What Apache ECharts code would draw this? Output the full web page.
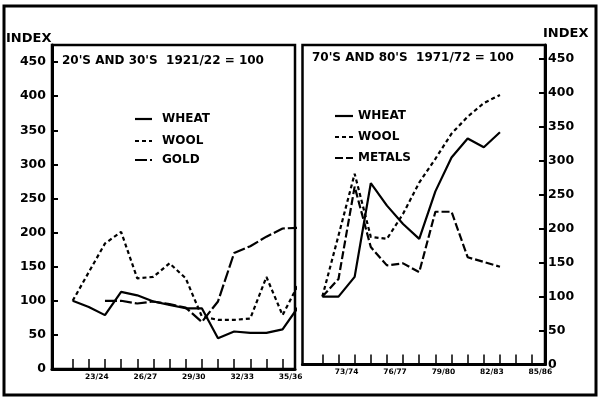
<!DOCTYPE html>
<html>
<head>
<meta charset="utf-8">
<script src="https://cdn.jsdelivr.net/npm/echarts@6/dist/echarts.min.js"></script>
<style>
html,body{margin:0;padding:0;background:#fff;}
#chart{width:600px;height:403px;}
</style>
</head>
<body>
<div id="chart"></div>
<script>
// ---- Data ----
const leftYears  = ['21/22','22/23','23/24','24/25','25/26','26/27','27/28','28/29','29/30','30/31','31/32','32/33','33/34','34/35','35/36'];
const rightYears = ['71/72','72/73','73/74','74/75','75/76','76/77','77/78','78/79','79/80','80/81','81/82','82/83','83/84','84/85','85/86'];

const leftWheat = [100, 91, 79, 113, 108, 99, 94, 89, 89, 45, 55, 53, 53, 58, 92];
const leftWool  = [100, 142, 184, 201, 133, 135, 155, 133, 77, 72, 72, 74, 135, 79, 125];
const leftGold  = [null, null, 100, 100, 96, 99, 95, 90, 69, 99, 170, 180, 194, 206, 207];

const rightWheat  = [100, 100, 129, 267, 234, 207, 185, 255, 305, 333, 320, 342];
const rightWool   = [100, 190, 281, 188, 185, 222, 268, 303, 340, 365, 385, 397];
const rightMetals = [100, 126, 262, 173, 146, 149, 136, 225, 225, 158, 151, 144];

const yTicks = [0, 50, 100, 150, 200, 250, 300, 350, 400, 450];
const labelEvery = 3, labelStart = 2; // 23/24, 26/27 ... and 73/74, 76/77 ...

const leftTitle  = "20'S AND 30'S  1921/22 = 100";
const rightTitle = "70'S AND 80'S  1971/72 = 100";
const axisName = 'INDEX';

const leftNames  = ['WHEAT', 'WOOL', 'GOLD'];
const rightNames = ['WHEAT', 'WOOL', 'METALS'];

// ---- Styles ----
const FONT = 'DejaVu Sans';
const DASH = { WHEAT: null, WOOL: [4,3], GOLD: [12,3], METALS: [8,3] };

function pairs(arr){ return arr.map((v,i)=>[i, v]); }
function labelPositions(years){
  const out = [];
  for (let i = labelStart; i < years.length; i += labelEvery) out.push(i - 0.5);
  return out;
}
function tickPositions(years, max){
  return years.map((_,i)=>i).filter(i => i <= max);
}
const L = {min:-1.28, max:13.77};
const R = {min:-1.23, max:13.79};

function xAxis(gi, years, ext){
  return {
    gridIndex: gi, type:'value', min: ext.min, max: ext.max,
    axisLine:{show:true, onZero:false, lineStyle:{color:'#000', width:3}},
    axisTick:{show:true, inside:true, length:10, lineStyle:{color:'#000', width:1.5},
      customValues: tickPositions(years, ext.max)},
    axisLabel:{show:true, customValues: labelPositions(years), margin:4,
      formatter: v => years[Math.round(v + 0.5)] || '',
      color:'#000', fontFamily:FONT, fontWeight:'bold', fontSize:7.5},
    splitLine:{show:false}
  };
}
function yAxis(gi, max, pos, margin){
  return {
    gridIndex: gi, type:'value', min:0, max:max, position:pos,
    axisLine:{show:true, onZero:false, lineStyle:{color:'#000', width:3}},
    axisTick:{show:true, inside:true, length:6, lineStyle:{color:'#000', width:2}, customValues: yTicks},
    axisLabel:{show:true, customValues: yTicks, margin:margin,
      color:'#000', fontFamily:FONT, fontWeight:'bold', fontSize:12.5},
    splitLine:{show:false}
  };
}
function line(name, data, gi){
  return {
    name, type:'line', data: pairs(data), xAxisIndex: gi, yAxisIndex: gi,
    showSymbol:false, symbol:'none', connectNulls:false, clip:true,
    lineStyle:{color:'#000', width:2.2, type: DASH[name] || 'solid'},
    itemStyle:{color:'#000'}
  };
}
// hand-placed key (legend) built from the series names
function key(names, x, y0, gaps, iconW, textGap){
  const els = [];
  let y = y0;
  names.forEach((n, i) => {
    if (i > 0) y += gaps[i-1];
    els.push({type:'line', silent:true,
      shape:{x1:x, y1:y, x2:x+iconW, y2:y},
      style:{stroke:'#000', lineWidth:2.2, lineDash: DASH[n] || null}});
    els.push({type:'text', silent:true, x: x+iconW+textGap, y: y,
      style:{text:n, fill:'#000', font:'bold 12px "DejaVu Sans"', verticalAlign:'middle', align:'left'}});
  });
  return els;
}

const chart = echarts.init(document.getElementById('chart'), null, {renderer:'canvas'});
const option = {
  animation:false,
  backgroundColor:'#fff',
  title:[
    {text: leftTitle, left:62, top:55, padding:0,
      textStyle:{fontFamily:FONT, fontWeight:'bold', fontSize:12, color:'#000'}},
    {text: rightTitle, left:312, top:52, padding:0,
      textStyle:{fontFamily:FONT, fontWeight:'bold', fontSize:12, color:'#000'}},
    {text: axisName, left:6, top:32, padding:0,
      textStyle:{fontFamily:FONT, fontWeight:'bold', fontSize:13, color:'#000'}},
    {text: axisName, left:543, top:27, padding:0,
      textStyle:{fontFamily:FONT, fontWeight:'bold', fontSize:13, color:'#000'}}
  ],
  grid:[
    {left:52, top:45, width:243, height:324, show:true, borderColor:'#000', borderWidth:2.5, backgroundColor:'transparent'},
    {left:302.5, top:45, width:242.5, height:319.5, show:true, borderColor:'#000', borderWidth:2.5, backgroundColor:'transparent'}
  ],
  xAxis:[ xAxis(0, leftYears, L), xAxis(1, rightYears, R) ],
  yAxis:[ yAxis(0, 475, 'left', 6), yAxis(1, 470.6, 'right', 3) ],
  series:[
    line('WHEAT', leftWheat, 0),
    line('WOOL', leftWool, 0),
    line('GOLD', leftGold, 0),
    line('WHEAT', rightWheat, 1),
    line('WOOL', rightWool, 1),
    line('METALS', rightMetals, 1)
  ],
  graphic:[
    {type:'rect', silent:true, shape:{x:4, y:6, width:592, height:389}, style:{fill:'none', stroke:'#000', lineWidth:3}}
  ].concat(key(leftNames, 135, 119, [22, 19], 17, 10))
   .concat(key(rightNames, 335, 116, [21, 21], 18, 5))
};
chart.setOption(option);
</script>
</body>
</html>
